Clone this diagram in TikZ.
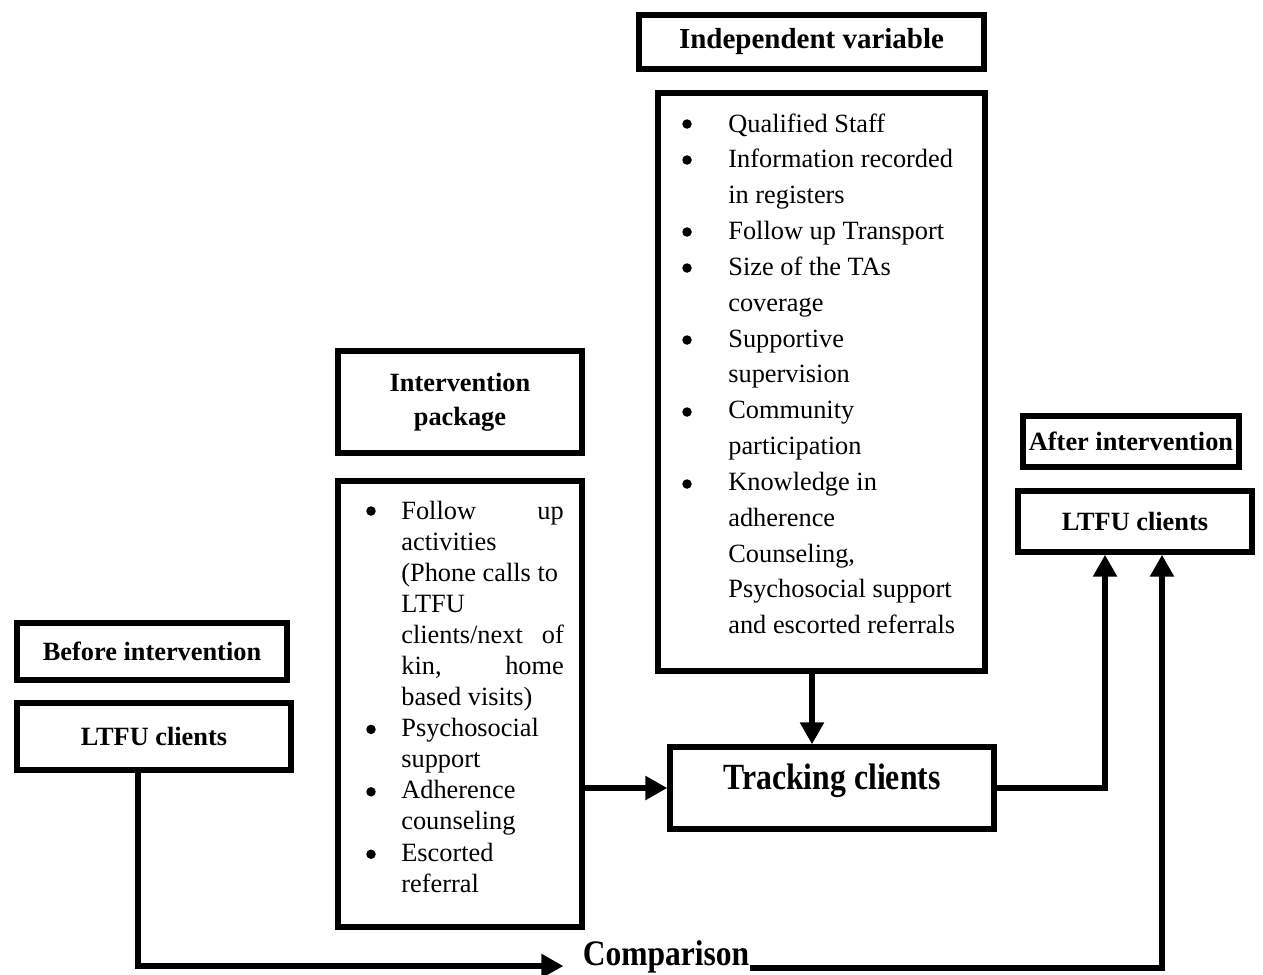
\documentclass[tikz,border=0pt]{standalone}
\usepackage{fontspec}
\setmainfont{Liberation Serif}
\usetikzlibrary{arrows.meta}

\begin{document}
\begin{tikzpicture}[x=0.02cm,y=-0.02cm,
    box/.style={draw,line width=3.1pt,inner sep=0pt,align=center,
      font=\bfseries\fontsize{15}{19.3}\selectfont},
    link/.style={line width=3.1pt,-{Triangle[length=0.44cm,width=0.46cm]}},
    itemtext/.style={inner sep=0pt,anchor=base west,align=left}]

\useasboundingbox (0,0) rectangle (1263,974);

% boxes
\node[box,minimum width=6.9cm,minimum height=1.08cm,
  font=\bfseries\fontsize{16.5}{19.3}\selectfont] (ivhead) at (811.5,42) {Independent variable};
\node[box,minimum width=6.54cm,minimum height=11.56cm] (ivlist) at (821.5,382) {};
\node[box,minimum width=4.88cm,minimum height=2.04cm] (pkghead) at (460,402) {Intervention\\package};
\node[box,minimum width=4.88cm,minimum height=8.92cm] (pkglist) at (460,704) {};
\node[box,minimum width=5.4cm,minimum height=1.14cm] (before) at (152,651.5) {Before intervention};
\node[box,minimum width=5.48cm,minimum height=1.34cm] (ltfuA) at (154,736.5) {LTFU clients};
\node[box,minimum width=6.48cm,minimum height=1.64cm,text depth=0.45cm,
  font=\bfseries\fontsize{21}{24}\selectfont] (track) at (832,788) {\scalebox{0.86}[1]{Tracking clients}};
\node[box,minimum width=4.32cm,minimum height=1.02cm] (after) at (1131,441.5) {After intervention};
\node[box,minimum width=4.68cm,minimum height=1.22cm] (ltfuB) at (1135,521.5) {LTFU clients};
\node[inner sep=0pt,font=\bfseries\fontsize{20.4}{24}\selectfont] (comp) at (666,957) {\scalebox{0.88}[1]{Comparison}};

% list texts
\node[itemtext,font=\fontsize{15}{20.4}\selectfont] (ivitems) at (728,132) {%
  \begin{tabular}[t]{@{}l@{}}
  Qualified Staff\\
  Information recorded\\
  in registers\\
  Follow up Transport\\
  Size of the TAs\\
  coverage\\
  Supportive\\
  supervision\\
  Community\\
  participation\\
  Knowledge in\\
  adherence\\
  Counseling,\\
  Psychosocial support\\
  and escorted referrals
  \end{tabular}};
\node[itemtext,font=\fontsize{15}{17.7}\selectfont] (pkgitems) at (401,519) {%
  \begin{tabular}[t]{@{}p{3.25cm}@{}}
  Follow\hfill up\\
  activities\\
  (Phone calls to\\
  LTFU\\
  clients/next\hfill of\\
  kin,\hfill home\\
  based visits)\\
  Psychosocial\\
  support\\
  Adherence\\
  counseling\\
  Escorted\\
  referral
  \end{tabular}};

% bullets
\foreach \y in {124,160,232,268,340,412,484}
  \fill (687,\y) circle (0.095cm);
\foreach \y in {511,729.4,791.8,854.2}
  \fill (371,\y) circle (0.095cm);

% connector positions
\coordinate (downx) at (812,0);
\coordinate (upx1) at (1105,0);
\coordinate (upx2) at (1162,0);
\coordinate (leftx) at (138,0);
\coordinate (basey) at (0,966);
\coordinate (basey2) at (0,968);

% connectors
\draw[link] (ivlist.south -| downx) -- (track.north -| downx);
\draw[link] (pkglist.east |- track.west) -- (track.west);
\draw[link] (track.east) -| (ltfuB.south -| upx1);
\draw[link,shorten >=0.38cm] (ltfuA.south -| leftx) |- (comp.west |- basey);
\draw[link] (comp.east |- basey2) -| (ltfuB.south -| upx2);
\end{tikzpicture}
\end{document}
